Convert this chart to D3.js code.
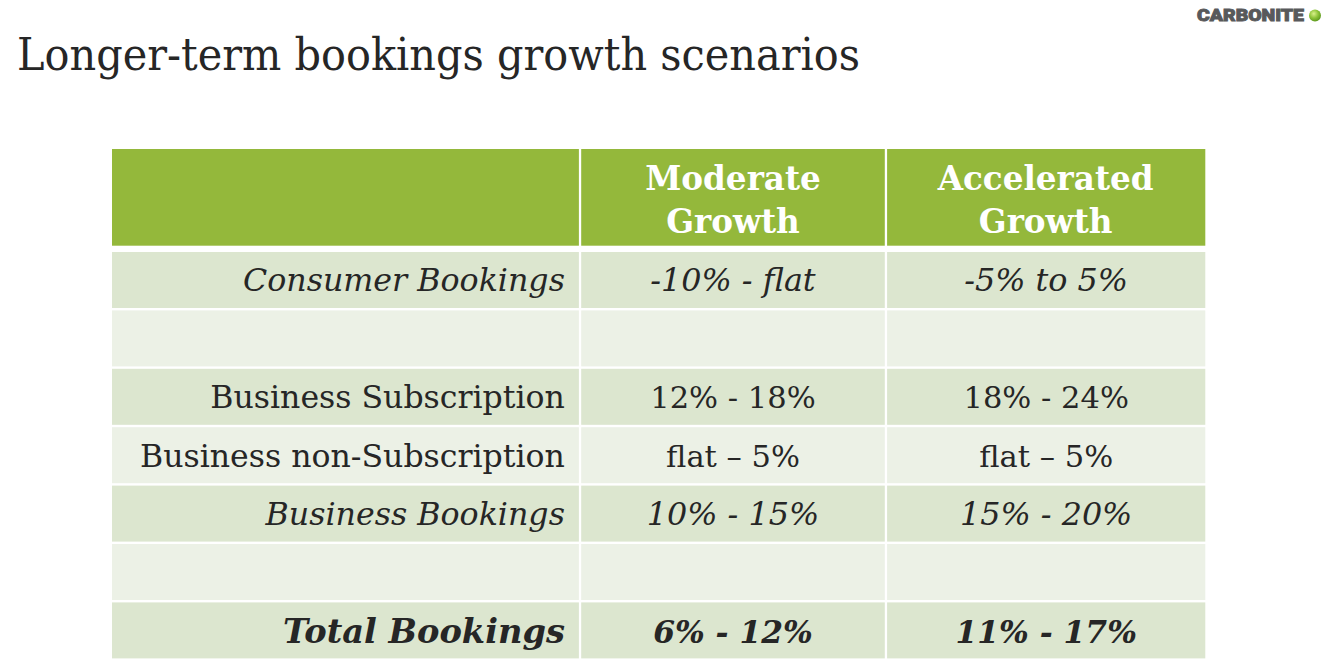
<!DOCTYPE html>
<html>
<head>
<meta charset="utf-8">
<script src="https://cdn.jsdelivr.net/npm/d3@7"></script>
<style>
  html, body { margin: 0; padding: 0; background: #ffffff; }
  svg { display: block; }
</style>
</head>
<body>
<svg id="chart" width="1330" height="665"></svg>
<script>
// ---------------- DATA ----------------
const title = "Longer-term bookings growth scenarios";
const brand = "CARBONITE";
const scenarios = ["Moderate Growth", "Accelerated Growth"];
const headerLines = [["Moderate", "Growth"], ["Accelerated", "Growth"]];
const rowLabels = ["Consumer Bookings", "", "Business Subscription", "Business non-Subscription", "Business Bookings", "", "Total Bookings"];
const moderateValues = ["-10% - flat", "", "12% - 18%", "flat \u2013 5%", "10% - 15%", "", "6% - 12%"];
const acceleratedValues = ["-5% to 5%", "", "18% - 24%", "flat \u2013 5%", "15% - 20%", "", "11% - 17%"];

// ---------------- LAYOUT / STYLE ----------------
const W = 1330, H = 665;
const SERIF = "'DejaVu Serif', 'Liberation Serif', serif";
const rowKinds = ["italic", "blank", "normal", "normal", "italic", "blank", "bolditalic"];
const colors = {
  header: "#94b83b", dark: "#dce6cf", light: "#ecf1e6",
  text: "#262626", white: "#ffffff", brand: "#58595b"
};
const table = { left: 112, right: 1205.3, headTop: 149, headBottom: 245.7, bodyTop: 252, bodyBottom: 658.4 };
const colFrac = [0, 0.4281, 0.7079, 1]; // column boundaries as fraction of table width
const gap = 2.3;

const svg = d3.select("#chart");

// Horizontal scale for column boundaries
const xFrac = d3.scaleLinear().domain([0, 1]).range([table.left, table.right]);
const colEdges = colFrac.map(f => xFrac(f));
// Row band scale
const y = d3.scaleBand().domain(d3.range(rowLabels.length))
  .range([table.bodyTop, table.bodyBottom]).paddingInner(0.041);

// font fitting helper
function fitSize(str, family, weight, style, target) {
  const t = svg.append("text").attr("font-family", family).attr("font-weight", weight)
    .attr("font-style", style).attr("font-size", 100).text(str);
  const w = t.node().getComputedTextLength();
  t.remove();
  return 100 * target / w;
}

const fs = {
  title: fitSize(title, SERIF, "normal", "normal", 843),
  normal: fitSize("Business non-Subscription", SERIF, "normal", "normal", 425),
  italic: fitSize("Consumer Bookings", SERIF, "normal", "italic", 322),
  bolditalic: fitSize("Total Bookings", SERIF, "bold", "italic", 282),
  header: fitSize("Accelerated", SERIF, "bold", "normal", 216),
  vNormal: fitSize("12% - 18%", SERIF, "normal", "normal", 160),
  vItalic: fitSize("-10% - flat", SERIF, "normal", "italic", 166),
  vBoldItalic: fitSize("11% - 17%", SERIF, "bold", "italic", 168)
};
const mix = (a, b) => (a + b) / 2;
const styleOf = {
  normal: { weight: "normal", style: "normal", size: fs.normal, vsize: mix(fs.normal, fs.vNormal) },
  italic: { weight: "normal", style: "italic", size: fs.italic, vsize: mix(fs.italic, fs.vItalic) },
  bolditalic: { weight: "bold", style: "italic", size: fs.bolditalic, vsize: mix(fs.bolditalic, fs.vBoldItalic) },
  blank: { weight: "normal", style: "normal", size: fs.normal, vsize: fs.vNormal }
};

// ---------------- TITLE ----------------
svg.append("text")
  .attr("x", 17).attr("y", 70)
  .attr("font-family", SERIF).attr("font-size", fs.title * 1.08)
  .attr("textLength", 843).attr("lengthAdjust", "spacingAndGlyphs")
  .attr("fill", colors.text).text(title);

// ---------------- BRAND LOGO ----------------
const defs = svg.append("defs");
const grad = defs.append("radialGradient").attr("id", "ball").attr("cx", "40%").attr("cy", "35%").attr("r", "65%");
grad.append("stop").attr("offset", "0%").attr("stop-color", "#d9f08a");
grad.append("stop").attr("offset", "55%").attr("stop-color", "#8fc43a");
grad.append("stop").attr("offset", "100%").attr("stop-color", "#5e9a1e");
svg.append("text")
  .attr("x", 1197).attr("y", 21)
  .attr("font-family", "Roboto, 'Liberation Sans', sans-serif")
  .attr("font-weight", 900).attr("font-size", 16)
  .attr("textLength", 107).attr("lengthAdjust", "spacingAndGlyphs")
  .attr("fill", colors.brand).attr("stroke", colors.brand).attr("stroke-width", 0.9)
  .text(brand);
svg.append("circle").attr("cx", 1315).attr("cy", 15.5).attr("r", 6).attr("fill", "url(#ball)");

// ---------------- HEADER ----------------
const headerG = svg.append("g");
d3.range(3).forEach(c => {
  const x0 = colEdges[c] + (c === 0 ? 0 : gap / 2);
  const x1 = colEdges[c + 1] - (c === 2 ? 0 : gap / 2);
  headerG.append("rect")
    .attr("x", x0).attr("y", table.headTop)
    .attr("width", x1 - x0).attr("height", table.headBottom - table.headTop)
    .attr("fill", colors.header);
});
scenarios.forEach((s, i) => {
  const cx = (colEdges[i + 1] + colEdges[i + 2]) / 2;
  const cy = (table.headTop + table.headBottom) / 2;
  headerLines[i].forEach((line, j) => {
    headerG.append("text")
      .attr("x", cx).attr("y", cy - 7.5 + j * 43)
      .attr("text-anchor", "middle")
      .attr("font-family", SERIF).attr("font-weight", "bold")
      .attr("font-size", fs.header).attr("fill", colors.white)
      .text(line);
  });
});

// ---------------- BODY ----------------
const rows = rowLabels.map((label, i) => ({
  i, kind: rowKinds[i], cells: [label, moderateValues[i], acceleratedValues[i]]
}));

const rowG = svg.append("g").selectAll("g").data(rows).join("g")
  .attr("transform", d => `translate(0,${y(d.i)})`);

rowG.each(function (d) {
  const g = d3.select(this);
  const st = styleOf[d.kind];
  const fill = d.i % 2 === 0 ? colors.dark : colors.light;
  d.cells.forEach((txt, c) => {
    const x0 = colEdges[c] + (c === 0 ? 0 : gap / 2);
    const x1 = colEdges[c + 1] - (c === 2 ? 0 : gap / 2);
    g.append("rect")
      .attr("x", x0).attr("y", 0)
      .attr("width", x1 - x0).attr("height", y.bandwidth())
      .attr("fill", fill);
    if (txt) {
      const size = c === 0 ? st.size : st.vsize;
      g.append("text")
        .attr("x", c === 0 ? x1 - 14 : (x0 + x1) / 2)
        .attr("y", y.bandwidth() / 2 + st.size * 0.36)
        .attr("text-anchor", c === 0 ? "end" : "middle")
        .attr("font-family", SERIF)
        .attr("font-weight", st.weight).attr("font-style", st.style)
        .attr("font-size", size).attr("fill", colors.text)
        .text(txt);
    }
  });
});
</script>
</body>
</html>
